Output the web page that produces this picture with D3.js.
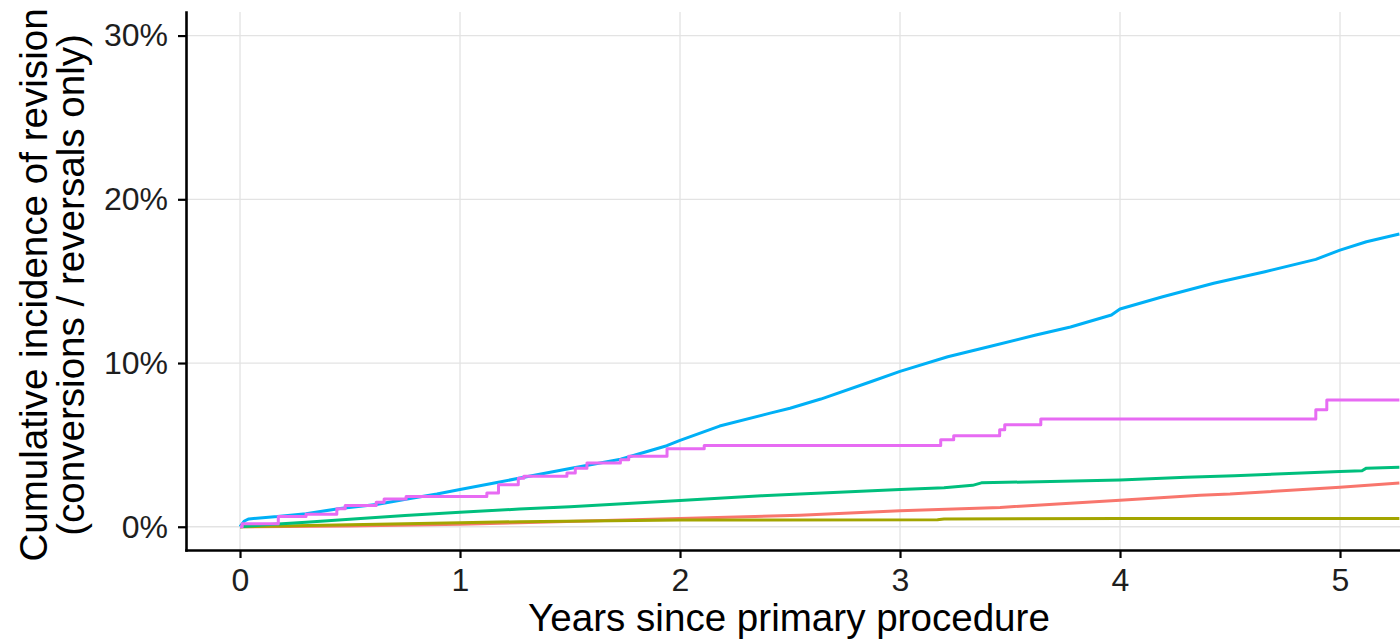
<!DOCTYPE html>
<html>
<head>
<meta charset="utf-8">
<script src="https://cdn.jsdelivr.net/npm/d3@7"></script>
<style>
  html, body { margin: 0; padding: 0; background: #fff; }
  svg { display: block; }
  text { font-family: "Liberation Sans", Arial, Helvetica, sans-serif; }
</style>
</head>
<body>
<svg id="chart" width="1400" height="642"></svg>
<script>
// ---- data (years, cumulative incidence %) ----
const seriesNames = ["red", "olive", "green", "blue", "pink"];
const seriesColors = ["#F8766D", "#A3A500", "#00BF7D", "#00B0F6", "#E76BF3"];

const redSeries = [[0,0],[0.5,0.05],[1.0,0.15],[1.27,0.25],[2.0,0.5],[2.545,0.71],[3.0,0.97],[3.455,1.18],[4.0,1.62],[4.364,1.93],[4.5,2.0],[5.0,2.41],[5.27,2.67]];
const oliveSeries = [[0,0],[0.5,0.12],[1.0,0.24],[1.27,0.31],[2.0,0.41],[3.17,0.43],[3.2,0.47],[4.0,0.5],[5.27,0.51]];
const greenSeries = [[0,0],[0.1,0.1],[0.3,0.28],[0.515,0.47],[0.75,0.68],[1.0,0.88],[1.27,1.08],[1.5,1.22],[2.0,1.6],[2.37,1.89],[2.545,2.0],[3.0,2.28],[3.2,2.38],[3.33,2.53],[3.37,2.68],[4.0,2.86],[4.3,3.02],[4.52,3.12],[5.0,3.37],[5.1,3.42],[5.12,3.58],[5.27,3.63]];
const blueSeries = [[0,0],[0.02,0.35],[0.04,0.48],[0.17,0.62],[0.30,0.80],[0.455,1.12],[0.62,1.36],[0.76,1.69],[0.895,2.0],[1.0,2.28],[1.168,2.70],[1.32,3.1],[1.50,3.56],[1.73,4.12],[1.94,4.95],[2.0,5.28],[2.18,6.15],[2.41,6.94],[2.5,7.24],[2.64,7.8],[2.87,8.87],[3.0,9.49],[3.217,10.38],[3.403,10.99],[3.613,11.7],[3.775,12.2],[3.961,12.93],[4.0,13.3],[4.194,14.05],[4.426,14.87],[4.659,15.58],[4.89,16.33],[5.0,16.9],[5.12,17.41],[5.27,17.88]];
const pinkSeries = [[0,0],[0.01,0.18],[0.174,0.63],[0.30,0.77],[0.44,1.1],[0.478,1.30],[0.619,1.49],[0.655,1.69],[0.755,1.85],[1.122,2.06],[1.175,2.57],[1.265,2.97],[1.29,3.08],[1.486,3.28],[1.524,3.58],[1.577,3.89],[1.729,4.09],[1.767,4.30],[1.941,4.76],[2.11,4.97],[3.185,5.31],[3.244,5.56],[3.453,5.93],[3.476,6.23],[3.64,6.58],[4.89,7.15],[4.94,7.74],[5.27,7.74]];

const xTicks = [0, 1, 2, 3, 4, 5];
const yTicks = [0, 10, 20, 30];
const xTitle = "Years since primary procedure";
const yTitleLines = ["Cumulative incidence of revision", "(conversions / reversals only)"];

(function draw() {
  const svg = d3.select("#chart");
  const pL = 186, pR = 1400, pT = 12, pB = 550;

  const x = d3.scaleLinear().domain([-0.2455, 5.2727]).range([pL, pR]);
  const y = d3.scaleLinear().domain([-1.42, 31.44]).range([pB, pT]);

  svg.append("rect").attr("width", 1400).attr("height", 642).attr("fill", "#fff");

  // grid
  const grid = svg.append("g");
  grid.selectAll("line.vx").data(xTicks).enter().append("line")
    .attr("x1", d => x(d)).attr("x2", d => x(d))
    .attr("y1", pT).attr("y2", pB)
    .attr("stroke", "#e3e3e3").attr("stroke-width", 1.3);
  grid.selectAll("line.hy").data(yTicks).enter().append("line")
    .attr("x1", pL).attr("x2", pR)
    .attr("y1", d => y(d)).attr("y2", d => y(d))
    .attr("stroke", "#e3e3e3").attr("stroke-width", 1.3);

  // lines
  const allSeries = [redSeries, oliveSeries, greenSeries, blueSeries, pinkSeries];
  svg.append("clipPath").attr("id", "clp").append("rect")
    .attr("x", pL).attr("y", pT).attr("width", pR - pL).attr("height", pB - pT);
  const lg = svg.append("g").attr("clip-path", "url(#clp)");
  allSeries.forEach((s, i) => {
    const line = d3.line()
      .x(d => x(d[0])).y(d => y(d[1]))
      .curve(seriesNames[i] === "pink" ? d3.curveStepAfter : d3.curveLinear);
    lg.append("path").datum(s)
      .attr("d", line)
      .attr("fill", "none")
      .attr("stroke", seriesColors[i])
      .attr("stroke-width", 3)
      .attr("stroke-linejoin", "round");
  });

  // axes
  const xAxis = d3.axisBottom(x).tickValues(xTicks).tickFormat(d3.format("d"))
    .tickSizeInner(8).tickSizeOuter(0).tickPadding(10);
  const gx = svg.append("g").attr("transform", `translate(0,${pB})`).call(xAxis);
  const yAxis = d3.axisLeft(y).tickValues(yTicks).tickFormat(d => d + "%")
    .tickSizeInner(8).tickSizeOuter(0).tickPadding(10);
  const gy = svg.append("g").attr("transform", `translate(${pL},0)`).call(yAxis);

  [gx, gy].forEach(g => {
    g.attr("font-size", 32);
    g.select(".domain").attr("stroke", "#000").attr("stroke-width", 2.6).attr("stroke-linecap", "square");
    g.selectAll(".tick line").attr("stroke", "#000").attr("stroke-width", 2.2);
    g.selectAll(".tick text").attr("font-size", 32).style("font-size", "32px").attr("fill", "#1e1e1e");
  });

  // titles
  svg.append("text").attr("x", 789).attr("y", 631)
    .attr("text-anchor", "middle").style("font-size", "38.6px").attr("fill", "#000")
    .text(xTitle);

  const yc = 285;
  [47, 84].forEach((bx, i) => {
    svg.append("text")
      .attr("transform", `translate(${bx},${yc}) rotate(-90)`)
      .attr("text-anchor", "middle").style("font-size", "38.6px").attr("fill", "#000")
      .text(yTitleLines[i]);
  });
})();
</script>
</body>
</html>
